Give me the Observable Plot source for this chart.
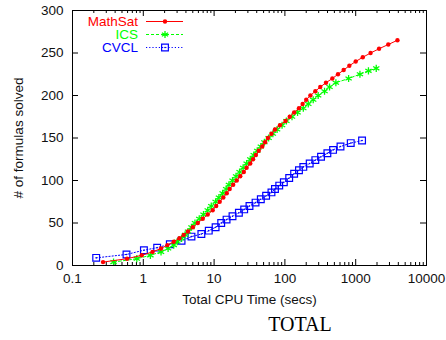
<!DOCTYPE html>
<html><head><meta charset="utf-8">
<script src="https://cdn.jsdelivr.net/npm/d3@7"></script>
<script src="https://cdn.jsdelivr.net/npm/@observablehq/plot@0.6"></script>
<style>
body{margin:0;background:#fff;}
#chart{position:relative;width:446px;height:340px;background:#fff;}
#caption{position:absolute;left:240px;width:120px;top:313px;text-align:center;font-family:"Liberation Serif","Times New Roman",serif;font-size:20px;color:#000;}
</style></head><body>
<div id="chart"><div id="caption">TOTAL</div></div>
<script>
// ---- data ----
const seriesNames = ["MathSat", "ICS", "CVCL"];
const seriesColors = ["#ff0000", "#00ff00", "#0000ff"];

const mathsatTime = [0.27,0.59,0.95,1.35,1.78,2.19,2.69,3.24,3.72,4.27,5.01,5.89,6.92,8.13,9.55,10.7,12.0,13.5,15.1,16.6,18.6,20.9,23.4,26.3,28.8,32.4,35.5,38.9,42.7,47.9,52.5,57.5,64.6,72.4,85.1,102,117,135,158,178,200,229,269,316,380,468,562,676,813,1000,1259,1622,2138,2884,3890];
const mathsatSolved = [4,8,12,16,20,24,28,32,36,40,45,50,55,60,65,70,75,80,85,90,95,100,105,110,115,120,125,130,135,140,145,150,155,160,165,170,175,180,185,190,195,200,205,210,215,220,225,230,235,240,245,250,255,260,265];

const icsTime = [0.38,0.81,1.26,1.78,2.24,2.69,3.02,3.47,3.89,4.27,4.79,5.37,6.17,7.08,8.13,9.12,10.5,11.7,13.2,14.8,16.2,18.2,20.4,22.9,25.7,28.8,32.4,36.3,40.7,45.7,51.3,58.9,67.6,77.6,91.2,105,126,151,182,214,251,295,363,427,525,794,1148,1514,1950];
const icsSolved = [4,8,12,16,20,24,28,32,36,40,45,50,55,60,65,70,75,80,85,90,95,100,105,110,115,120,125,130,135,140,145,150,155,160,165,170,175,180,185,190,195,200,205,210,215,220,225,229,232];

const cvclTime = [0.216,0.579,1.02,1.57,2.37,3.47,4.79,6.61,8.41,10.5,12.6,15.0,18.2,22.4,26.6,31.6,38.5,45.7,54.3,64.6,72.4,83.2,96.6,115,135,158,182,224,269,324,398,479,610,851,1230];
const cvclSolved = [9,13,18,21,25,29,34,37,41,45,50,54,58,62,66,70,74,78,82,86,90,94,98,103,108,112,116,120,124,128,132,136,140,144,147];

const xMajor = [0.1, 1, 10, 100, 1000, 10000];
const xTickLabels = ["0.1", "1", "10", "100", "1000", "10000"];
const yTicks = [0, 50, 100, 150, 200, 250, 300];
const yTickLabels = ["0", "50", "100", "150", "200", "250", "300"];
const xLabel = "Total CPU Time (secs)";
const yLabel = "# of formulas solved";

// ---- build tables ----
const mathsat = mathsatTime.map((t, i) => ({t, n: mathsatSolved[i]}));
const ics = icsTime.map((t, i) => ({t, n: icsSolved[i]}));
const cvcl = cvclTime.map((t, i) => ({t, n: cvclSolved[i]}));
const xMinor = [];
for (let k = 0; k < xMajor.length - 1; k++) for (let m = 2; m <= 9; m++) xMinor.push(xMajor[k] * m);

const W = 446, H = 310, mL = 72, mR = 20, mT = 10, mB = 45;
const fw = W - mL - mR, fh = H - mT - mB;
const font = "'Liberation Sans', Arial, Helvetica, sans-serif";
const fs = 13.5;

const plot = Plot.plot({
  width: W, height: H,
  marginLeft: mL, marginRight: mR, marginTop: mT, marginBottom: mB,
  x: {type: "log", domain: [0.1, 10000]},
  y: {domain: [0, 300]},
  style: {fontFamily: font, fontSize: fs + "px", color: "#000", background: "#fff", overflow: "visible"},
  marks: [
    // ticks (inward, gnuplot style)
    Plot.tickX(xMajor, {x: d => d, insetTop: fh - 6, stroke: "#000"}),
    Plot.tickX(xMajor, {x: d => d, insetBottom: fh - 6, stroke: "#000"}),
    Plot.tickX(xMinor, {x: d => d, insetTop: fh - 3, stroke: "#000"}),
    Plot.tickX(xMinor, {x: d => d, insetBottom: fh - 3, stroke: "#000"}),
    Plot.tickY(yTicks, {y: d => d, insetRight: fw - 6, stroke: "#000"}),
    Plot.tickY(yTicks, {y: d => d, insetLeft: fw - 6, stroke: "#000"}),
    Plot.axisX(xMajor, {tickSize: 0, tickPadding: 8, label: null, fontSize: fs, fill: "#111", tickFormat: d => xTickLabels[xMajor.indexOf(d)]}),
    Plot.axisY(yTicks, {tickSize: 0, tickPadding: 9, label: null, fontSize: fs, fill: "#111", tickFormat: d => yTickLabels[yTicks.indexOf(d)]}),
    Plot.text([xLabel], {frameAnchor: "bottom", lineAnchor: "middle", textAnchor: "middle", dy: 34, fontSize: fs, fill: "#111", text: d => d}),
    Plot.text([yLabel], {frameAnchor: "left", lineAnchor: "middle", textAnchor: "middle", dx: -54, rotate: -90, fontSize: fs, fill: "#111", text: d => d}),
    // CVCL
    Plot.line(cvcl, {x: "t", y: "n", stroke: seriesColors[2], strokeWidth: 1, strokeDasharray: "1.2,2"}),
    Plot.dot(cvcl, {x: "t", y: "n", symbol: "square", r: 3.8, stroke: seriesColors[2], fill: "none", strokeWidth: 1.2}),
    Plot.dot(cvcl, {x: "t", y: "n", r: 0.8, fill: seriesColors[2]}),
    // ICS
    Plot.line(ics, {x: "t", y: "n", stroke: seriesColors[1], strokeWidth: 1, strokeDasharray: "3,2"}),
    Plot.dot(ics, {x: "t", y: "n", symbol: "asterisk", r: 3.4, stroke: seriesColors[1], strokeWidth: 1.3}),
    // MathSat
    Plot.line(mathsat, {x: "t", y: "n", stroke: seriesColors[0], strokeWidth: 1}),
    Plot.dot(mathsat, {x: "t", y: "n", r: 2.2, fill: seriesColors[0]}),
    Plot.frame({stroke: "#000"})
  ]
});
document.getElementById("chart").prepend(plot);

// ---- legend (gnuplot style, top-left inside the frame) ----
const svg = d3.select(plot);
const lg = svg.append("g").attr("font-family", font).attr("font-size", fs);
const dashes = [null, "3,2", "1.2,2"];
seriesNames.forEach((name, i) => {
  const cy = mT + 11.5 + i * 13;
  const g = lg.append("g").attr("transform", `translate(0,${cy})`);
  g.append("text").attr("x", mL + 66).attr("y", 0).attr("dy", "0.35em")
    .attr("text-anchor", "end").attr("fill", seriesColors[i]).text(name);
  g.append("line").attr("x1", mL + 74).attr("x2", mL + 111).attr("y1", 0).attr("y2", 0)
    .attr("stroke", seriesColors[i]).attr("stroke-dasharray", dashes[i]);
  const mx = mL + 93;
  if (i === 0) g.append("circle").attr("cx", mx).attr("cy", 0).attr("r", 2.2).attr("fill", seriesColors[0]);
  if (i === 1) g.append("path").attr("transform", `translate(${mx},0)`)
    .attr("d", d3.symbol(d3.symbolAsterisk, 3.4 * 3.4 * Math.PI)()).attr("stroke", seriesColors[1]).attr("stroke-width", 1.3).attr("fill", "none");
  if (i === 2) {
    g.append("path").attr("transform", `translate(${mx},0)`)
      .attr("d", d3.symbol(d3.symbolSquare, 3.8 * 3.8 * Math.PI)()).attr("stroke", seriesColors[2]).attr("stroke-width", 1.2).attr("fill", "none");
    g.append("circle").attr("cx", mx).attr("cy", 0).attr("r", 0.8).attr("fill", seriesColors[2]);
  }
});
</script>
</body></html>
